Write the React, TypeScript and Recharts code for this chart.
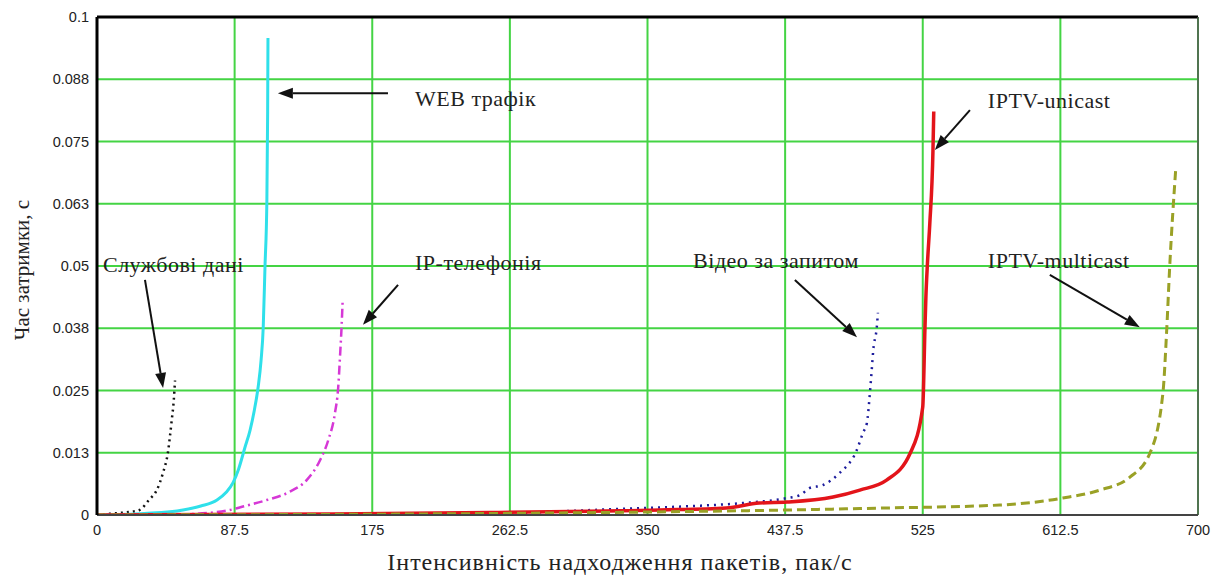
import {
  LineChart,
  Line,
  XAxis,
  YAxis,
  CartesianGrid,
  ReferenceLine,
  ReferenceDot,
} from "recharts";

// packet rate, pkt/s
const xTicks = [0, 87.5, 175, 262.5, 350, 437.5, 525, 612.5, 700];
const yTicks = [0, 0.0125, 0.025, 0.0375, 0.05, 0.0625, 0.075, 0.0875, 0.1];
const yTickLabels = ["0", "0.013", "0.025", "0.038", "0.05", "0.063", "0.075", "0.088", "0.1"];

// Службові дані
const serviceX = [0, 10, 20, 27, 33, 38, 42, 45, 47.5, 48.8, 49.6];
const serviceY = [0, 0.0003, 0.0006, 0.001, 0.003, 0.005, 0.0085, 0.0124, 0.019, 0.023, 0.027];

// WEB трафік
const webX = [0, 30, 54.7, 66, 76.3, 82, 86.5, 90, 94, 97.3, 100, 102.5, 104.3, 105.7, 106.8, 108, 108.5, 108.7];
const webY = [0, 0.0003, 0.001, 0.0018, 0.003, 0.0045, 0.0065, 0.0092, 0.0135, 0.017, 0.021, 0.0258, 0.031, 0.0378, 0.0498, 0.063, 0.081, 0.0958];

// IP-телефонія
const ipX = [40, 70, 84.5, 92.8, 107.9, 122.7, 133.3, 141.8, 147, 151.3, 153.4, 154.5, 155.5, 156.2];
const ipY = [0, 0.0004, 0.001, 0.0017, 0.003, 0.0047, 0.007, 0.011, 0.015, 0.0205, 0.0258, 0.0318, 0.0378, 0.0432];

// Відео за запитом
const vodX = [250, 300, 347, 379, 410.7, 438.6, 447, 453, 461.5, 472, 483, 487, 489.5, 491.4, 492.7, 493.5, 495.8, 496.5];
const vodY = [0, 0.0008, 0.0014, 0.0018, 0.0024, 0.0034, 0.004, 0.0054, 0.006, 0.0084, 0.013, 0.0165, 0.0185, 0.0245, 0.0297, 0.033, 0.0378, 0.0406];

// IPTV-unicast
const uniX = [0, 150, 250, 358, 400, 421, 438.6, 468, 485, 502, 517, 525, 526.4, 527, 528, 529.5, 531.5, 532];
const uniY = [0, 0.0002, 0.0005, 0.001, 0.0014, 0.0024, 0.0026, 0.0036, 0.005, 0.007, 0.0124, 0.0217, 0.0375, 0.0438, 0.0506, 0.0586, 0.0733, 0.081];

// IPTV-multicast
const multiX = [0, 200, 350, 437.5, 500, 574, 614, 637.6, 656.7, 669.4, 677.7, 680, 682, 685.8];
const multiY = [0, 0.0002, 0.0006, 0.001, 0.0014, 0.002, 0.0034, 0.005, 0.0076, 0.0124, 0.0245, 0.0365, 0.0498, 0.0693];

const toPoints = (xs: number[], ys: number[]) => xs.map((x, i) => ({ x, y: ys[i] }));

const series = [
  { name: "Службові дані", data: toPoints(serviceX, serviceY), color: "#111111", width: 2.5, dash: "2 4" },
  { name: "WEB трафік", data: toPoints(webX, webY), color: "#2fe0ea", width: 3, dash: undefined },
  { name: "IP-телефонія", data: toPoints(ipX, ipY), color: "#d638d6", width: 2.5, dash: "9 4 2 4" },
  { name: "Відео за запитом", data: toPoints(vodX, vodY), color: "#1c1c9c", width: 2.5, dash: "2 5" },
  { name: "IPTV-unicast", data: toPoints(uniX, uniY), color: "#e3141a", width: 3.5, dash: undefined },
  { name: "IPTV-multicast", data: toPoints(multiX, multiY), color: "#9aa126", width: 3, dash: "9 5" },
];

// caption position + arrow from/to, all in data units
const notes = [
  { text: "WEB трафік", tx: 202.2, ty: 0.0837, from: [185, 0.0847], to: [115, 0.0847] },
  { text: "IPTV-unicast", tx: 566.4, ty: 0.0833, from: [555, 0.0813], to: [532.7, 0.0733] },
  { text: "Службові дані", tx: 3.8, ty: 0.0504, from: [30.5, 0.0472], to: [42, 0.0255] },
  { text: "IP-телефонія", tx: 202.2, ty: 0.0508, from: [191.4, 0.0462], to: [169.1, 0.0382] },
  { text: "Відео за запитом", tx: 379, ty: 0.0512, from: [443.7, 0.0472], to: [483.2, 0.0357] },
  { text: "IPTV-multicast", tx: 566.4, ty: 0.0512, from: [605.8, 0.0482], to: [663, 0.0377] },
];

const serif = "'Liberation Serif', 'Times New Roman', serif";
const tickFont = { fill: "#222", fontSize: 14.5, fontFamily: "'Liberation Sans', Arial, sans-serif" };

function Arrow(props: any) {
  const { x1, y1, x2, y2 } = props;
  const a = Math.atan2(y2 - y1, x2 - x1);
  const len = 15;
  const hw = 5.5;
  const bx = x2 - len * Math.cos(a);
  const by = y2 - len * Math.sin(a);
  const px = -Math.sin(a) * hw;
  const py = Math.cos(a) * hw;
  return (
    <g>
      <line x1={x1} y1={y1} x2={bx} y2={by} stroke="#111" strokeWidth={2} />
      <polygon points={`${x2},${y2} ${bx + px},${by + py} ${bx - px},${by - py}`} fill="#111" />
    </g>
  );
}

export default function App() {
  return (
    <div style={{ position: "absolute", left: 0, top: 0, background: "#fff" }}>
      <LineChart width={1217} height={576} margin={{ top: 17, right: 19, bottom: 0, left: 0 }}>
        <CartesianGrid stroke="#44d444" strokeWidth={2} />
        <XAxis
          type="number"
          dataKey="x"
          domain={[0, 700]}
          ticks={xTicks}
          allowDataOverflow
          height={61}
          tick={tickFont}
          tickMargin={4}
          tickLine={false}
          axisLine={{ stroke: "#444", strokeWidth: 2 }}
          label={{
            content: (p: any) => {
              const vb = p.viewBox;
              return (
                <text
                  x={620}
                  y={vb.y + 55}
                  textAnchor="middle"
                  fontFamily={serif}
                  fontSize={24}
                  letterSpacing={1}
                  fill="#222"
                >
                  Інтенсивність надходження пакетів, пак/с
                </text>
              );
            },
          }}
        />
        <YAxis
          type="number"
          domain={[0, 0.1]}
          ticks={yTicks}
          allowDataOverflow
          width={97}
          tick={tickFont}
          tickFormatter={(v: number) => yTickLabels[yTicks.indexOf(v)] ?? String(v)}
          tickLine={false}
          axisLine={{ stroke: "#000", strokeWidth: 3 }}
          label={{
            content: (p: any) => {
              const vb = p.viewBox;
              const cy = vb.y + vb.height / 2 + 4;
              return (
                <text
                  x={22}
                  y={cy}
                  transform={`rotate(-90, 22, ${cy})`}
                  textAnchor="middle"
                  dominantBaseline="central"
                  fontFamily={serif}
                  fontSize={21}
                  fill="#222"
                >
                  Час затримки, с
                </text>
              );
            },
          }}
        />
        <ReferenceLine y={0.1} stroke="#000" strokeWidth={3} ifOverflow="visible" />
        <ReferenceLine x={700} stroke="#555" strokeWidth={1.5} ifOverflow="visible" />
        {series.map((s) => (
          <Line
            key={s.name}
            name={s.name}
            data={s.data}
            dataKey="y"
            type="monotone"
            stroke={s.color}
            strokeWidth={s.width}
            strokeDasharray={s.dash}
            dot={false}
            activeDot={false}
            isAnimationActive={false}
          />
        ))}
        {notes.map((n) => (
          <ReferenceLine
            key={"a" + n.text}
            segment={[
              { x: n.from[0], y: n.from[1] },
              { x: n.to[0], y: n.to[1] },
            ]}
            ifOverflow="visible"
            shape={Arrow}
          />
        ))}
        {notes.map((n) => (
          <ReferenceDot
            key={"t" + n.text}
            x={n.tx}
            y={n.ty}
            r={0}
            ifOverflow="visible"
            shape={(p: any) => (
              <text
                x={p.cx}
                y={p.cy}
                dominantBaseline="central"
                fontFamily={serif}
                fontSize={22}
                letterSpacing={0.5}
                fill="#222"
              >
                {n.text}
              </text>
            )}
          />
        ))}
      </LineChart>
    </div>
  );
}
